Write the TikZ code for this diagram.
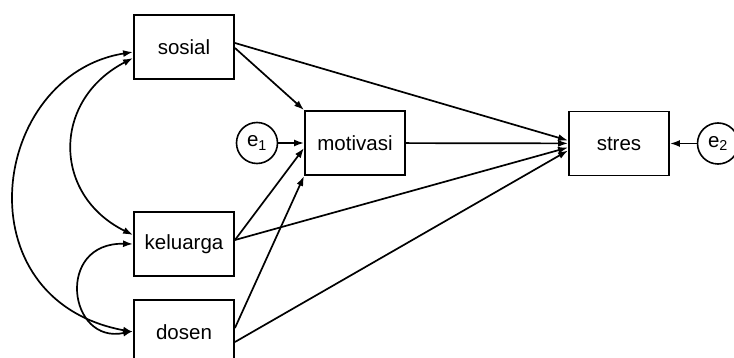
\documentclass[tikz,border=0pt]{standalone}
\usepackage{fontspec}
\setmainfont{Liberation Sans}
\usetikzlibrary{arrows.meta}

\begin{document}
\begin{tikzpicture}[
x=1pt, y=-1pt,
font=\fontsize{20.5}{24}\selectfont,
var/.style={draw, line width=1.9pt, minimum width=100pt, minimum height=64pt, inner sep=0pt},
err/.style={draw, circle, line width=1.6pt, minimum size=41pt, inner sep=0pt},
arr/.style={line width=1.7pt, -{Latex[length=10pt,width=7pt]}},
covarr/.style={line width=1.7pt, {Latex[length=10pt,width=7pt]}-{Latex[length=10pt,width=7pt]}}]
    \useasboundingbox (0,0) rectangle (734,358);

    % Draw variables
    \node[var] (sosial) at (184,47) {sosial};
    \node[var] (keluarga) at (184,244) {keluarga};
    \node[var] (dosen) at (184,332) {dosen};
    \node[var] (motivasi) at (355,143) {motivasi};
    \node[var] (stres) at (619,143.5) {stres};
    \node[err] (e1) at (257,143) {e\textsubscript{1}};
    \node[err] (e2) at (718,143.5) {e\textsubscript{2}};

    % Draw paths
    \draw[arr] ([yshift=-1pt]sosial.east) -- (motivasi.north west);
    \draw[arr] ([yshift=4pt]sosial.east) -- ([yshift=3pt]stres.west);
    \draw[arr] (e1) -- (motivasi);
    \draw[arr] (motivasi) -- (stres);
    \draw[arr] ([yshift=4pt]keluarga.east) -- ([yshift=-5pt]motivasi.west);
    \draw[arr] ([yshift=4pt]keluarga.east) -- ([yshift=-4pt]stres.west);
    \draw[arr] ([yshift=4pt]dosen.east) -- (motivasi.south west);
    \draw[arr] ([yshift=-10pt]dosen.east) -- ([yshift=-7pt]stres.west);
    \draw[arr] (e2) -- (stres);

    % Draw covariances
    \draw[covarr] ([yshift=-5pt]sosial.west) .. controls (-10,75) and (-40,300) .. (dosen.west);
    \draw[covarr] ([yshift=-11pt]sosial.west) .. controls (52,100) and (52,195) .. ([yshift=9pt]keluarga.west);
    \draw[covarr] (keluarga.west) .. controls (55,242) and (68,345) .. ([yshift=1pt]dosen.west);

\end{tikzpicture}
\end{document}
